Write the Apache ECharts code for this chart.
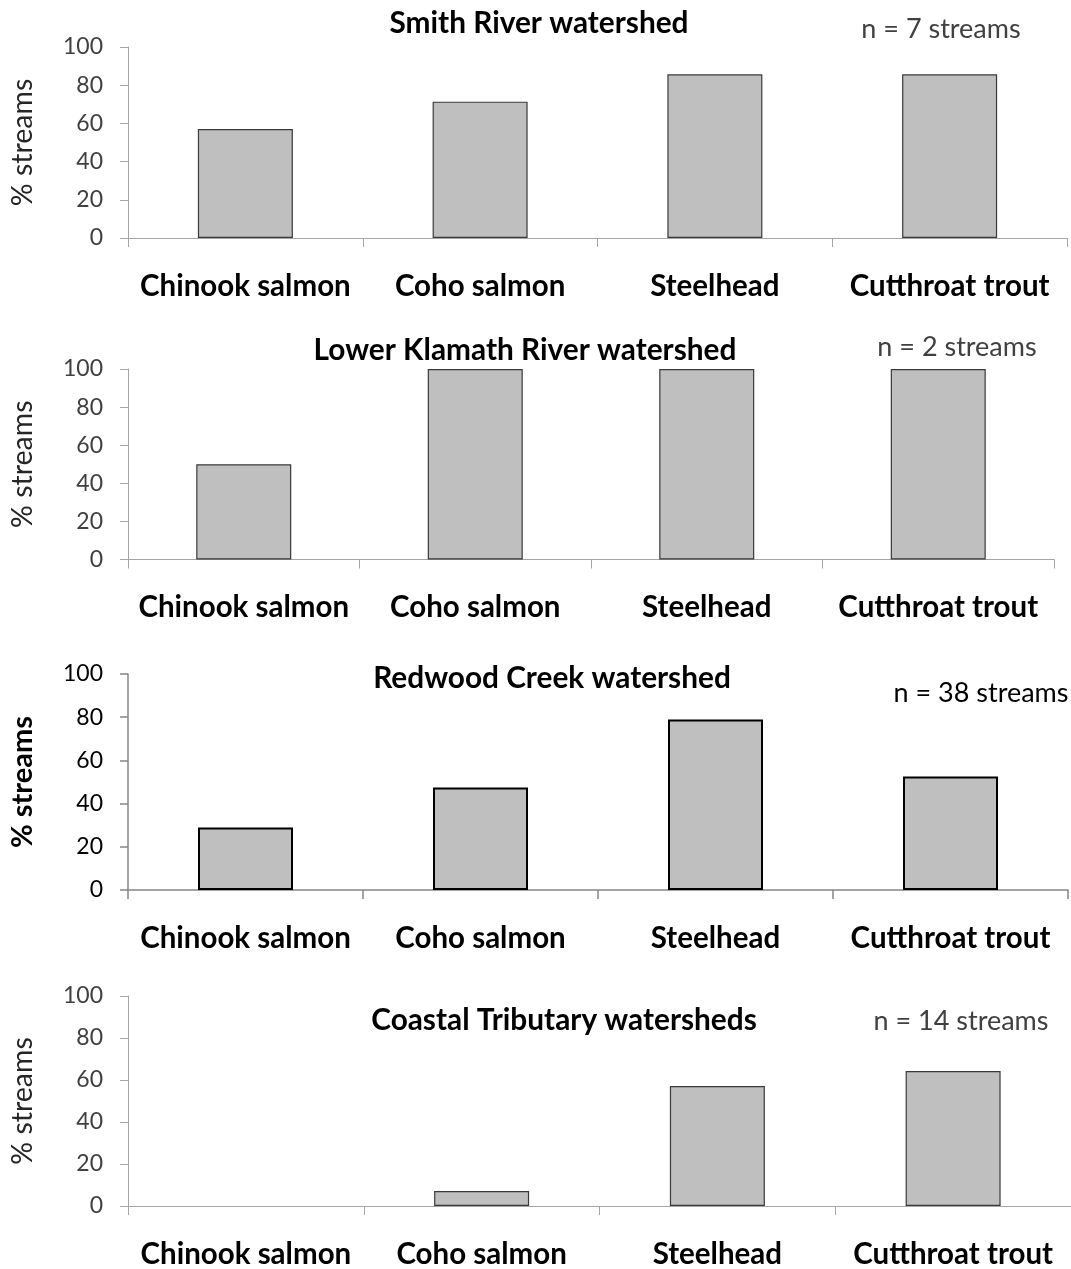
<!DOCTYPE html>
<html>
<head>
<meta charset="utf-8">
<title>Salmonid presence by watershed</title>
<script src="https://cdn.jsdelivr.net/npm/echarts@6/dist/echarts.min.js"></script>
<style>
  html, body { margin: 0; padding: 0; background: #fff; }
  #chart { width: 1071px; height: 1269px; }
</style>
</head>
<body>
<div id="chart"></div>
<script>
// Species surveyed in every watershed
const categories = ['Chinook salmon', 'Coho salmon', 'Steelhead', 'Cutthroat trout'];

// Percent of surveyed streams where each species was found
const smithRiver       = [57.1, 71.4, 85.7, 85.7];
const lowerKlamath     = [50, 100, 100, 100];
const redwoodCreek     = [28.9, 47.4, 78.9, 52.6];
const coastalTributary = [0, 7.1, 57.1, 64.3];

const watershedNames = [
  'Smith River watershed',
  'Lower Klamath River watershed',
  'Redwood Creek watershed',
  'Coastal Tributary watersheds'
];
const streamCounts = [7, 2, 38, 14];

// Value axis range shared by all panels
const yMin = 0;
const yMax = 100;
const yStep = 20;

const FONT = 'Lato';

// Placement of each panel on the page
const layout = [
  { grid: { left: 126, right: 4,  top: 47,  height: 191 },   titleAt: [539, 23],   countAt: [941, 29],   strong: false },
  { grid: { left: 124, right: 17, top: 369, height: 190.5 }, titleAt: [525, 350],  countAt: [957, 347],  strong: false },
  { grid: { left: 127, right: 3,  top: 674, height: 216 },   titleAt: [552, 678],  countAt: [981, 693],  strong: true  },
  { grid: { left: 124, right: 0,  top: 996, height: 210 },   titleAt: [564, 1020], countAt: [961, 1021], strong: false }
];

const seriesValues = [smithRiver, lowerKlamath, redwoodCreek, coastalTributary];

const grids = [], xAxes = [], yAxes = [], series = [], titles = [];

layout.forEach((p, i) => {
  const textGray = p.strong ? '#000' : '#404040';
  const lineColor = p.strong ? '#868686' : '#a6a6a6';

  grids.push(Object.assign({ containLabel: false }, p.grid));

  xAxes.push({
    type: 'category',
    gridIndex: i,
    data: categories,
    boundaryGap: true,
    axisLine: { show: true, lineStyle: { color: lineColor, width: p.strong ? 1.5 : 1 } },
    axisTick: { show: true, length: 9, lineStyle: { color: lineColor, width: p.strong ? 1.5 : 1 } },
    axisLabel: {
      margin: 33,
      color: '#000',
      fontFamily: FONT,
      fontWeight: 'bold',
      fontSize: 29.5,
      interval: 0
    },
    splitLine: { show: false }
  });

  yAxes.push({
    type: 'value',
    gridIndex: i,
    min: yMin,
    max: yMax,
    interval: yStep,
    name: '% streams',
    nameLocation: 'middle',
    nameGap: 91,
    nameTextStyle: {
      fontFamily: FONT,
      fontSize: p.strong ? 29 : 28.5,
      fontWeight: p.strong ? 'bold' : 'normal',
      color: p.strong ? '#000' : '#262626'
    },
    axisLine: { show: true, lineStyle: { color: lineColor, width: p.strong ? 1.5 : 1 } },
    axisTick: { show: true, length: 8, lineStyle: { color: lineColor, width: p.strong ? 1.5 : 1 } },
    axisLabel: {
      margin: 25,
      color: textGray,
      fontFamily: FONT,
      fontSize: 23
    },
    splitLine: { show: false }
  });

  series.push({
    type: 'bar',
    xAxisIndex: i,
    yAxisIndex: i,
    barWidth: 95,
    itemStyle: {
      color: '#bfbfbf',
      borderColor: p.strong ? '#000' : '#3a3a3a',
      borderWidth: p.strong ? 2 : 1.2
    },
    // an empty bar leaves no outline on the baseline
    data: seriesValues[i].map(v => v === 0 ? { value: v, itemStyle: { borderWidth: 0 } } : v),
    silent: true,
    animation: false
  });

  titles.push({
    text: watershedNames[i],
    left: p.titleAt[0],
    top: p.titleAt[1],
    textAlign: 'center',
    textVerticalAlign: 'middle',
    padding: 0,
    textStyle: { fontFamily: FONT, fontWeight: 'bold', fontSize: 29.8, color: '#000' }
  });
  titles.push({
    text: 'n = ' + streamCounts[i] + ' streams',
    left: p.countAt[0],
    top: p.countAt[1],
    textAlign: 'center',
    textVerticalAlign: 'middle',
    padding: 0,
    textStyle: { fontFamily: FONT, fontWeight: 'normal', fontSize: 27, color: textGray }
  });
});

const chart = echarts.init(document.getElementById('chart'), null, { renderer: 'canvas' });
chart.setOption({
  backgroundColor: '#ffffff',
  animation: false,
  title: titles,
  grid: grids,
  xAxis: xAxes,
  yAxis: yAxes,
  series: series
});
</script>
</body>
</html>
